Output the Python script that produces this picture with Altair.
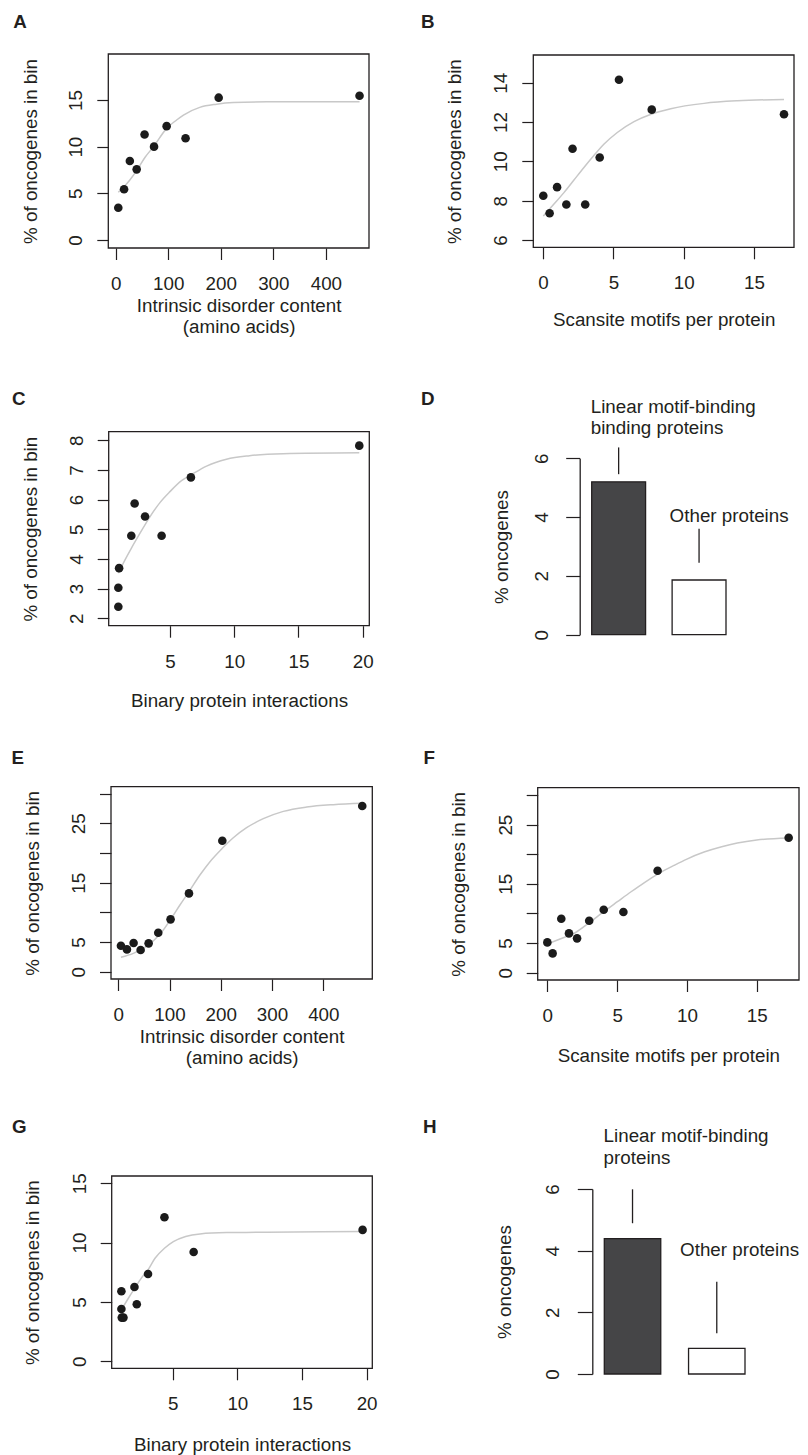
import altair as alt
import pandas as pd

# ---------------- data ----------------
# A: intrinsic disorder content vs % oncogenes
A_x = [5, 16, 27, 40, 55, 73, 97, 133, 196, 464]
A_y = [3.46, 5.43, 8.47, 7.57, 11.3, 10.0, 12.2, 10.9, 15.25, 15.46]
A_fit_x = [5, 16, 27, 40, 56, 73, 97, 116, 129, 160, 192, 224, 288, 464]
A_fit_y = [5.11, 5.71, 6.43, 7.43, 8.86, 10.07, 11.96, 12.86, 13.39, 14.21, 14.55, 14.72, 14.8, 14.82]
A_xlim = [-14, 482]
A_ylim = [-0.86, 19.93]
A_xticks = [0, 100, 200, 300, 400]
A_yticks = [0, 5, 10, 15]

# B: Scansite motifs
B_x = [0.02, 0.47, 1.0, 1.66, 2.1, 3.0, 4.03, 5.4, 7.73, 17.13]
B_y = [8.25, 7.36, 8.69, 7.81, 10.64, 7.81, 10.2, 14.15, 12.63, 12.4]
B_fit_x = [0.02, 0.78, 1.49, 2.2, 2.91, 3.63, 4.34, 5.28, 6.47, 7.73, 9.08, 11.45, 13.82, 17.13]
B_fit_y = [7.22, 7.83, 8.41, 9.05, 9.69, 10.31, 10.88, 11.47, 12.02, 12.41, 12.68, 12.95, 13.08, 13.15]
B_xlim = [-0.69, 17.84]
B_ylim = [5.63, 15.41]
B_xticks = [0, 5, 10, 15]
B_yticks = [6, 8, 10, 12, 14]

# C: binary protein interactions
C_x = [0.98, 0.98, 1.04, 1.99, 2.25, 3.06, 4.35, 6.63, 19.74]
C_y = [2.39, 3.03, 3.69, 4.78, 5.87, 5.43, 4.78, 6.75, 7.82]
C_fit_x = [0.98, 1.5, 1.99, 2.67, 3.45, 4.22, 5.0, 5.9, 6.63, 7.85, 9.4, 11.2, 13.8, 19.74]
C_fit_y = [3.52, 3.97, 4.36, 4.87, 5.43, 5.9, 6.27, 6.64, 6.83, 7.13, 7.36, 7.48, 7.55, 7.58]
C_xlim = [0.23, 20.52]
C_ylim = [1.75, 8.29]
C_xticks = [5, 10, 15, 20]
C_yticks = [2, 3, 4, 5, 6, 7, 8]

# D: bars
D_groups = ["Linear motif-binding proteins", "Other proteins"]
D_pct = [5.2, 1.86]
D_lead_lo = [5.46, 2.45]
D_lead_hi = [6.37, 3.6]
D_labels = ["Linear motif-binding\nbinding proteins", "Other proteins"]
D_label_y = [7.55, 3.83]
D_yticks = [0, 2, 4, 6]

# E
E_x = [5.2, 16.9, 29.9, 43.6, 59.2, 78, 102, 137.9, 203, 476]
E_y = [4.38, 3.76, 4.83, 3.65, 4.78, 6.57, 8.82, 13.2, 22.08, 27.92]
E_fit_x = [5.2, 29.3, 48.8, 68.3, 87.8, 102.1, 120.3, 137.9, 159.3, 178.9, 202.9, 224.4, 250.4, 282.9, 322, 367.5, 419.5, 476]
E_fit_y = [2.42, 3.09, 3.93, 5.17, 7.02, 8.82, 11.24, 13.48, 16.29, 18.54, 20.79, 22.58, 24.27, 25.79, 27.02, 27.75, 28.15, 28.37]
E_xlim = [-14.2, 495.6]
E_ylim = [-1.23, 31.18]
E_xticks = [0, 100, 200, 300, 400]
E_yticks = [0, 5, 10, 15, 20, 25, 30]

# F
F_x = [0, 0.38, 1.0, 1.55, 2.13, 3.0, 4.04, 5.45, 7.9, 17.29]
F_y = [5.12, 3.26, 9.12, 6.64, 5.8, 8.78, 10.64, 10.24, 17.22, 22.79]
F_fit_x = [0, 0.96, 2.0, 3.0, 4.04, 5.02, 6.0, 6.93, 8.0, 9.08, 10.0, 11.23, 12.49, 13.61, 15, 17.29]
F_fit_y = [4.84, 5.74, 6.75, 8.44, 10.3, 11.99, 13.67, 15.19, 16.77, 18.12, 19.19, 20.37, 21.27, 21.89, 22.4, 22.74]
F_xlim = [-0.69, 18.03]
F_ylim = [-1.23, 31.24]
F_xticks = [0, 5, 10, 15]
F_yticks = [0, 5, 10, 15, 20, 25, 30]

# G
G_x = [1.03, 1.03, 1.06, 1.19, 2.04, 2.22, 3.09, 4.36, 6.62, 19.69]
G_y = [5.9, 4.41, 3.68, 3.68, 6.26, 4.8, 7.36, 12.13, 9.21, 11.07]
G_fit_x = [1.03, 1.57, 2.04, 2.6, 3.09, 3.63, 4.36, 5.05, 6.0, 7.11, 9.18, 12.27, 19.69]
G_fit_y = [4.33, 5.31, 6.12, 7.05, 7.7, 8.68, 9.52, 10.08, 10.51, 10.73, 10.84, 10.87, 10.93]
G_xlim = [0.28, 20.44]
G_ylim = [-0.59, 15.61]
G_xticks = [5, 10, 15, 20]
G_yticks = [0, 5, 10, 15]

# H: bars
H_groups = ["Linear motif-binding proteins", "Other proteins"]
H_pct = [4.39, 0.83]
H_lead_lo = [4.89, 1.32]
H_lead_hi = [5.99, 2.99]
H_labels = ["Linear motif-binding\nproteins", "Other proteins"]
H_label_y = [7.53, 3.84]
H_yticks = [0, 2, 4, 6]

T_DIS = ["Intrinsic disorder content", "(amino acids)"]
T_SCAN = "Scansite motifs per protein"
T_BIN = "Binary protein interactions"
T_PCT = "% of oncogenes in bin"
T_PCT_B = "% of oncogenes  in bin"
T_ONC = "% oncogenes"

# ---------------- layout / style ----------------
W_TOT = 792
H_TOT = 1447
MARGIN = 8


def P(v):
    return v - MARGIN


FONT = "Liberation Sans"
INK = "#231f20"
FS = 18.8
FIT = "#c8c8c8"
DOT = "#1b1b1b"
BAR_DARK = "#454547"
TICK = 11.5
XPAD = 30.0
YPAD = 15.0

SCAT = {
    "A": dict(box=(108.3, 369.0, 54.0, 248.0), xty=63.0, ytx=-72.0),
    "B": dict(box=(533.3, 794.0, 55.0, 247.3), xty=78.0, ytx=-72.5),
    "C": dict(box=(108.7, 369.3, 431.7, 625.7), xty=81.0, ytx=-72.0),
    "E": dict(box=(111.0, 372.3, 786.7, 979.0), xty=63.7, ytx=-72.5),
    "F": dict(box=(537.7, 799.0, 787.7, 980.0), xty=81.7, ytx=-73.5),
    "G": dict(box=(111.7, 372.3, 1176.0, 1368.3), xty=81.7, ytx=-73.2),
}
BARS = {
    "D": dict(axis_x=579.7, y0=634.7, y6=458.3, span=(591.7, 726.0), tick=14, pad=18.4, ytx=-72.2,
              lh=21.3, label_dx=(-1.0, -2.5)),
    "H": dict(axis_x=592.3, y0=1374.0, y6=1189.0, span=(604.3, 745.0), tick=15, pad=19.3, ytx=-81.5,
              lh=22.3, label_dx=(-0.7, -8.5)),
}
LETTERS = {"A": (13.3, 28.3), "B": (421.0, 28.3), "C": (12.0, 405.0), "D": (421.0, 405.0),
           "E": (11.5, 764.0), "F": (423.5, 764.0), "G": (12.0, 1133.3), "H": (423.0, 1133.3)}


def scatter(key, xs, ys, fx, fy, xlim, ylim, xticks, yticks, xtitle, ytitle, hide=()):
    lay = SCAT[key]
    L, R, T, B = [P(v) for v in lay["box"]]
    xsc = alt.Scale(domain=xlim, range=[L, R], nice=False, zero=False)
    ysc = alt.Scale(domain=ylim, range=[B, T], nice=False, zero=False)
    xaxis = alt.Axis(orient="bottom", offset=B - H_TOT, values=xticks, domain=False,
                     tickSize=TICK, labelPadding=XPAD, labelAngle=0, labelAlign="center",
                     labelBaseline="alphabetic", title=xtitle, titleX=(L + R) / 2,
                     titleY=lay["xty"], titleAngle=0, titleAlign="center",
                     titleBaseline="alphabetic")
    ykw = {}
    if hide:
        cond = " || ".join(f"datum.value == {h}" for h in hide)
        ykw["labelExpr"] = f"({cond}) ? '' : datum.label"
    yaxis = alt.Axis(orient="left", offset=-L, values=yticks, domain=False,
                     tickSize=TICK, labelPadding=YPAD, labelAngle=270, labelAlign="center",
                     labelBaseline="alphabetic", title=ytitle, titleX=lay["ytx"],
                     titleY=(T + B) / 2, titleAngle=270, titleAlign="center",
                     titleBaseline="alphabetic", **ykw)
    box_df = pd.DataFrame({"x0": [xlim[0]], "x1": [xlim[1]], "y0": [ylim[0]], "y1": [ylim[1]]})
    box = alt.Chart(box_df).mark_rect(fillOpacity=0, stroke=INK, strokeWidth=1.3).encode(
        x=alt.X("x0:Q", scale=xsc, axis=xaxis), x2="x1:Q",
        y=alt.Y("y0:Q", scale=ysc, axis=yaxis), y2="y1:Q")
    fit = alt.Chart(pd.DataFrame({"x": fx, "y": fy})).mark_line(
        color=FIT, strokeWidth=1.5, interpolate="monotone").encode(
        x=alt.X("x:Q", scale=xsc, axis=None), y=alt.Y("y:Q", scale=ysc, axis=None))
    pts = alt.Chart(pd.DataFrame({"x": xs, "y": ys})).mark_circle(
        size=74, color=DOT, opacity=1).encode(
        x=alt.X("x:Q", scale=xsc, axis=None), y=alt.Y("y:Q", scale=ysc, axis=None))
    return [box, fit, pts]


def barpanel(key, groups, vals, lo, hi, labels, label_y, yticks, ytitle):
    lay = BARS[key]
    ax = P(lay["axis_x"])
    y0, y6 = P(lay["y0"]), P(lay["y6"])
    xsc = alt.Scale(type="band", domain=groups, range=[P(lay["span"][0]), P(lay["span"][1])],
                    paddingInner=0.33, paddingOuter=0)
    ysc = alt.Scale(domain=[yticks[0], yticks[-1]], range=[y0, y6], nice=False, zero=False)
    yaxis = alt.Axis(orient="left", offset=-ax, values=yticks, domain=True, domainColor=INK,
                     domainWidth=1.3, tickSize=lay["tick"], labelPadding=lay["pad"],
                     labelAngle=270, labelAlign="center", labelBaseline="alphabetic",
                     title=ytitle, titleX=lay["ytx"], titleY=(y0 + y6) / 2, titleAngle=270,
                     titleAlign="center", titleBaseline="alphabetic")
    bar = alt.Chart(pd.DataFrame({"g": groups, "v": vals})).mark_bar(
        stroke=INK, strokeWidth=1.3).encode(
        x=alt.X("g:N", scale=xsc, axis=None, sort=groups),
        y=alt.Y("v:Q", scale=ysc, axis=yaxis),
        fill=alt.Fill("g:N", scale=alt.Scale(domain=groups, range=[BAR_DARK, "#ffffff"]), legend=None))
    lead = alt.Chart(pd.DataFrame({"g": groups, "lo": lo, "hi": hi})).mark_rule(
        color=INK, strokeWidth=1.3).encode(
        x=alt.X("g:N", scale=xsc, axis=None, sort=groups),
        y=alt.Y("lo:Q", scale=ysc, axis=None), y2="hi:Q")
    out = [bar, lead]
    for g, yv, t, dx in zip(groups, label_y, labels, lay["label_dx"]):
        out.append(alt.Chart(pd.DataFrame({"g": [g], "y": [yv], "t": [t]})).mark_text(
            align="left", baseline="alphabetic", font=FONT, fontSize=FS, color=INK,
            lineBreak="\n", lineHeight=lay["lh"], dx=dx).encode(
            x=alt.X("g:N", scale=xsc, axis=None, bandPosition=0),
            y=alt.Y("y:Q", scale=ysc, axis=None), text="t:N"))
    return out


def letter(ch):
    x, y = LETTERS[ch]
    return alt.Chart(pd.DataFrame({"t": [ch]})).mark_text(
        align="left", baseline="alphabetic", font=FONT, fontSize=FS, fontWeight="bold",
        color=INK).encode(x=alt.value(P(x)), y=alt.value(P(y)), text="t:N")


layers = []
layers += scatter("A", A_x, A_y, A_fit_x, A_fit_y, A_xlim, A_ylim, A_xticks, A_yticks, T_DIS, T_PCT)
layers += scatter("B", B_x, B_y, B_fit_x, B_fit_y, B_xlim, B_ylim, B_xticks, B_yticks, T_SCAN, T_PCT_B)
layers += scatter("C", C_x, C_y, C_fit_x, C_fit_y, C_xlim, C_ylim, C_xticks, C_yticks, T_BIN, T_PCT)
layers += barpanel("D", D_groups, D_pct, D_lead_lo, D_lead_hi, D_labels, D_label_y, D_yticks, T_ONC)
layers += scatter("E", E_x, E_y, E_fit_x, E_fit_y, E_xlim, E_ylim, E_xticks, E_yticks, T_DIS, T_PCT,
                  hide=(10, 20, 30))
layers += scatter("F", F_x, F_y, F_fit_x, F_fit_y, F_xlim, F_ylim, F_xticks, F_yticks, T_SCAN, T_PCT,
                  hide=(10, 20, 30))
layers += scatter("G", G_x, G_y, G_fit_x, G_fit_y, G_xlim, G_ylim, G_xticks, G_yticks, T_BIN, T_PCT)
layers += barpanel("H", H_groups, H_pct, H_lead_lo, H_lead_hi, H_labels, H_label_y, H_yticks, T_ONC)
layers += [letter(c) for c in "ABCDEFGH"]

chart = alt.layer(*layers).resolve_scale(
    x="independent", y="independent", fill="independent"
).properties(
    width=W_TOT, height=H_TOT, padding=0, autosize=alt.AutoSizeParams(type="none")
).configure(font=FONT).configure_view(stroke=None).configure_axis(
    labelFont=FONT, labelFontSize=FS, labelColor=INK, titleFont=FONT, titleFontSize=FS,
    titleColor=INK, titleFontWeight="normal", tickColor=INK, tickWidth=1.2, grid=False,
    labelFlush=False, labelOverlap=False, titleLineHeight=21, titlePadding=0
)

chart.save("out.html", embed_options={"renderer": "svg", "actions": False})
